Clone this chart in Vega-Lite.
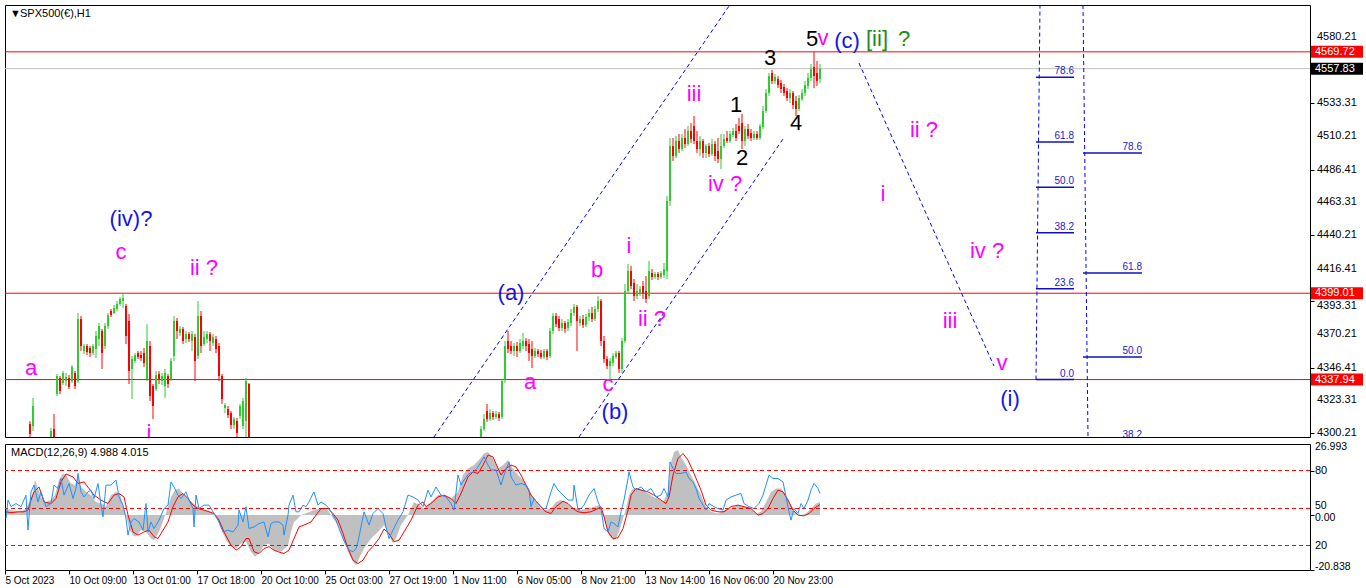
{
"$schema":"https://vega.github.io/schema/vega-lite/v6.json",
"padding":{"left":4,"top":4,"right":0,"bottom":0},
"background":"#ffffff",
"spacing":2,
"config":{"view":{"stroke":"#000000","strokeWidth":1},"axis":{"labelFont":"Liberation Sans","labelFontSize":11,"labelColor":"#000000","tickColor":"#000000","domainColor":"#000000","grid":false,"labelOverlap":false}},
"datasets":{
"hlines":[{"p":4569.72,"kind":"level"},{"p":4557.83,"kind":"bid"},{"p":4399.01,"kind":"level"},{"p":4337.94,"kind":"level"}],
"yt":[{"p":4300.21},{"p":4323.31},{"p":4346.41},{"p":4370.21},{"p":4393.31},{"p":4416.41},{"p":4440.21},{"p":4463.31},{"p":4486.41},{"p":4510.21},{"p":4533.31},{"p":4580.21}],
"mt":[{"v":26.993,"t":"26.993"},{"v":16.93,"t":"80"},{"v":2.5,"t":"50"},{"v":0,"t":"0.00"},{"v":-11.54,"t":"20"},{"v":-20.838,"t":"-20.838"}],
"candles":[
{"x":29,"o":4306.5,"h":4308.6,"l":4294.5,"c":4299.5},
{"x":32,"o":4305.1,"h":4324.9,"l":4301.6,"c":4319.3},
{"x":50,"o":4291.0,"h":4303.7,"l":4287.4,"c":4301.6},
{"x":53,"o":4303.0,"h":4313.6,"l":4291.0,"c":4296.6},
{"x":56,"o":4327.7,"h":4341.9,"l":4326.3,"c":4340.5},
{"x":59,"o":4339.1,"h":4340.5,"l":4327.7,"c":4329.9},
{"x":62,"o":4335.5,"h":4344.0,"l":4334.1,"c":4342.6},
{"x":65,"o":4336.9,"h":4342.6,"l":4333.4,"c":4339.8},
{"x":68,"o":4339.1,"h":4341.2,"l":4331.3,"c":4332.7},
{"x":71,"o":4336.9,"h":4348.3,"l":4335.5,"c":4346.8},
{"x":74,"o":4342.6,"h":4344.0,"l":4331.3,"c":4333.4},
{"x":77,"o":4336.9,"h":4385.0,"l":4335.5,"c":4380.8},
{"x":80,"o":4380.8,"h":4382.9,"l":4358.2,"c":4361.7},
{"x":83,"o":4358.2,"h":4363.1,"l":4356.0,"c":4361.7},
{"x":86,"o":4361.7,"h":4363.1,"l":4355.3,"c":4357.4},
{"x":89,"o":4360.3,"h":4361.7,"l":4353.9,"c":4356.7},
{"x":92,"o":4356.7,"h":4363.1,"l":4355.3,"c":4361.7},
{"x":95,"o":4359.6,"h":4372.3,"l":4353.2,"c":4368.8},
{"x":98,"o":4366.6,"h":4378.0,"l":4361.7,"c":4375.8},
{"x":101,"o":4372.3,"h":4373.7,"l":4345.4,"c":4356.7},
{"x":104,"o":4361.7,"h":4378.0,"l":4359.6,"c":4375.8},
{"x":107,"o":4375.8,"h":4385.0,"l":4373.7,"c":4383.6},
{"x":110,"o":4386.4,"h":4387.9,"l":4382.2,"c":4383.6},
{"x":113,"o":4385.0,"h":4390.7,"l":4384.3,"c":4388.6},
{"x":116,"o":4387.9,"h":4393.5,"l":4386.4,"c":4391.4},
{"x":119,"o":4391.4,"h":4396.3,"l":4390.0,"c":4394.9},
{"x":122,"o":4393.5,"h":4399.0,"l":4388.6,"c":4395.6},
{"x":125,"o":4390.0,"h":4391.4,"l":4363.1,"c":4368.8},
{"x":128,"o":4379.4,"h":4384.3,"l":4334.8,"c":4344.0},
{"x":131,"o":4345.4,"h":4354.6,"l":4324.2,"c":4352.5},
{"x":134,"o":4351.1,"h":4356.7,"l":4349.7,"c":4355.3},
{"x":137,"o":4356.7,"h":4358.2,"l":4352.5,"c":4353.9},
{"x":140,"o":4355.3,"h":4358.2,"l":4351.1,"c":4353.2},
{"x":143,"o":4356.7,"h":4360.3,"l":4346.8,"c":4349.7},
{"x":146,"o":4338.4,"h":4377.2,"l":4336.9,"c":4365.2},
{"x":149,"o":4361.7,"h":4365.2,"l":4322.8,"c":4326.3},
{"x":152,"o":4333.4,"h":4334.8,"l":4310.1,"c":4319.3},
{"x":155,"o":4331.3,"h":4344.0,"l":4329.9,"c":4341.2},
{"x":158,"o":4341.9,"h":4344.0,"l":4334.8,"c":4338.4},
{"x":161,"o":4336.9,"h":4342.6,"l":4334.1,"c":4340.5},
{"x":164,"o":4333.4,"h":4345.4,"l":4324.9,"c":4342.6},
{"x":167,"o":4340.5,"h":4341.9,"l":4332.0,"c":4334.8},
{"x":170,"o":4338.4,"h":4353.2,"l":4336.9,"c":4351.1},
{"x":173,"o":4354.6,"h":4382.9,"l":4351.1,"c":4379.4},
{"x":176,"o":4379.4,"h":4381.5,"l":4366.6,"c":4372.3},
{"x":179,"o":4370.9,"h":4375.8,"l":4368.8,"c":4373.7},
{"x":182,"o":4373.7,"h":4375.1,"l":4363.1,"c":4365.2},
{"x":185,"o":4366.6,"h":4372.3,"l":4363.8,"c":4370.2},
{"x":188,"o":4370.2,"h":4371.6,"l":4364.5,"c":4366.6},
{"x":191,"o":4365.2,"h":4372.3,"l":4358.2,"c":4370.2},
{"x":194,"o":4368.1,"h":4370.2,"l":4336.9,"c":4351.1},
{"x":197,"o":4354.6,"h":4393.5,"l":4352.5,"c":4382.9},
{"x":200,"o":4382.9,"h":4386.4,"l":4356.7,"c":4361.7},
{"x":203,"o":4363.1,"h":4372.3,"l":4361.7,"c":4368.1},
{"x":206,"o":4366.6,"h":4372.3,"l":4363.8,"c":4370.2},
{"x":209,"o":4370.2,"h":4371.6,"l":4358.2,"c":4365.2},
{"x":212,"o":4363.8,"h":4370.2,"l":4361.7,"c":4368.1},
{"x":215,"o":4366.6,"h":4368.8,"l":4356.7,"c":4359.6},
{"x":218,"o":4361.7,"h":4363.8,"l":4336.9,"c":4340.5},
{"x":221,"o":4340.5,"h":4341.9,"l":4320.7,"c":4324.2},
{"x":224,"o":4317.8,"h":4321.4,"l":4314.3,"c":4320.0},
{"x":227,"o":4317.1,"h":4319.3,"l":4310.8,"c":4312.9},
{"x":230,"o":4314.3,"h":4315.7,"l":4303.0,"c":4305.8},
{"x":233,"o":4305.8,"h":4311.5,"l":4303.0,"c":4310.1},
{"x":236,"o":4308.6,"h":4310.8,"l":4294.5,"c":4300.2},
{"x":239,"o":4312.2,"h":4320.7,"l":4310.1,"c":4319.3},
{"x":242,"o":4305.1,"h":4324.9,"l":4303.0,"c":4322.8},
{"x":245,"o":4308.6,"h":4339.1,"l":4296.6,"c":4336.9},
{"x":248,"o":4334.8,"h":4335.5,"l":4291.0,"c":4296.6},
{"x":480,"o":4296.6,"h":4305.1,"l":4294.5,"c":4303.0},
{"x":483,"o":4303.0,"h":4313.6,"l":4301.6,"c":4310.1},
{"x":486,"o":4315.7,"h":4320.7,"l":4307.9,"c":4310.1},
{"x":489,"o":4310.1,"h":4317.1,"l":4308.6,"c":4314.3},
{"x":492,"o":4314.3,"h":4315.7,"l":4309.4,"c":4311.5},
{"x":495,"o":4311.5,"h":4315.7,"l":4310.1,"c":4313.6},
{"x":498,"o":4313.6,"h":4315.0,"l":4308.6,"c":4310.8},
{"x":501,"o":4311.5,"h":4338.4,"l":4310.1,"c":4336.9},
{"x":504,"o":4338.4,"h":4365.2,"l":4335.5,"c":4361.7},
{"x":507,"o":4365.2,"h":4372.3,"l":4356.7,"c":4359.6},
{"x":510,"o":4361.7,"h":4365.2,"l":4356.0,"c":4358.2},
{"x":513,"o":4358.2,"h":4363.8,"l":4354.6,"c":4361.7},
{"x":516,"o":4361.7,"h":4364.5,"l":4353.9,"c":4358.2},
{"x":519,"o":4358.2,"h":4366.6,"l":4356.7,"c":4363.8},
{"x":522,"o":4361.7,"h":4370.9,"l":4359.6,"c":4365.2},
{"x":525,"o":4365.2,"h":4367.3,"l":4358.2,"c":4361.7},
{"x":528,"o":4363.1,"h":4366.6,"l":4351.1,"c":4356.7},
{"x":531,"o":4359.6,"h":4365.2,"l":4346.1,"c":4354.6},
{"x":534,"o":4354.6,"h":4360.3,"l":4353.2,"c":4358.2},
{"x":537,"o":4358.2,"h":4359.6,"l":4353.9,"c":4356.0},
{"x":540,"o":4356.7,"h":4358.9,"l":4352.5,"c":4353.9},
{"x":543,"o":4353.9,"h":4359.6,"l":4352.5,"c":4358.2},
{"x":546,"o":4358.2,"h":4359.6,"l":4351.8,"c":4353.9},
{"x":549,"o":4354.6,"h":4374.4,"l":4353.2,"c":4372.3},
{"x":552,"o":4372.3,"h":4385.0,"l":4370.2,"c":4382.9},
{"x":555,"o":4382.9,"h":4385.0,"l":4375.1,"c":4377.2},
{"x":558,"o":4380.8,"h":4382.9,"l":4372.3,"c":4374.4},
{"x":561,"o":4374.4,"h":4380.8,"l":4372.3,"c":4378.0},
{"x":564,"o":4378.0,"h":4379.4,"l":4370.9,"c":4373.7},
{"x":567,"o":4374.4,"h":4380.8,"l":4372.3,"c":4378.7},
{"x":570,"o":4378.0,"h":4387.9,"l":4375.8,"c":4385.0},
{"x":573,"o":4385.0,"h":4391.4,"l":4382.9,"c":4389.3},
{"x":576,"o":4389.3,"h":4390.7,"l":4358.2,"c":4379.4},
{"x":579,"o":4378.0,"h":4382.9,"l":4375.8,"c":4380.8},
{"x":582,"o":4380.8,"h":4383.6,"l":4374.4,"c":4376.5},
{"x":585,"o":4376.5,"h":4384.3,"l":4375.1,"c":4382.2},
{"x":588,"o":4382.2,"h":4387.9,"l":4379.4,"c":4385.0},
{"x":591,"o":4385.0,"h":4389.3,"l":4378.7,"c":4380.8},
{"x":594,"o":4380.8,"h":4390.0,"l":4379.4,"c":4387.9},
{"x":597,"o":4387.9,"h":4397.0,"l":4385.7,"c":4393.5},
{"x":600,"o":4393.5,"h":4394.9,"l":4361.7,"c":4365.2},
{"x":603,"o":4365.2,"h":4368.8,"l":4349.7,"c":4352.5},
{"x":606,"o":4352.5,"h":4354.6,"l":4345.4,"c":4347.5},
{"x":609,"o":4347.5,"h":4353.2,"l":4338.4,"c":4351.1},
{"x":612,"o":4349.7,"h":4356.7,"l":4347.5,"c":4354.6},
{"x":615,"o":4353.9,"h":4358.2,"l":4352.5,"c":4356.7},
{"x":618,"o":4356.7,"h":4358.2,"l":4342.6,"c":4345.4},
{"x":621,"o":4345.4,"h":4367.3,"l":4342.6,"c":4365.2},
{"x":624,"o":4365.2,"h":4405.5,"l":4363.8,"c":4400.6},
{"x":627,"o":4400.6,"h":4419.7,"l":4399.2,"c":4414.7},
{"x":630,"o":4414.7,"h":4418.3,"l":4402.0,"c":4404.1},
{"x":633,"o":4406.2,"h":4409.1,"l":4393.5,"c":4397.0},
{"x":636,"o":4397.0,"h":4405.5,"l":4394.9,"c":4400.6},
{"x":639,"o":4399.2,"h":4404.1,"l":4397.0,"c":4402.0},
{"x":642,"o":4404.1,"h":4407.7,"l":4394.9,"c":4399.2},
{"x":645,"o":4400.6,"h":4411.2,"l":4392.1,"c":4394.9},
{"x":648,"o":4397.0,"h":4421.8,"l":4394.9,"c":4414.7},
{"x":651,"o":4413.3,"h":4416.1,"l":4408.4,"c":4410.5},
{"x":654,"o":4410.5,"h":4414.0,"l":4409.1,"c":4412.6},
{"x":657,"o":4412.6,"h":4414.0,"l":4408.4,"c":4410.5},
{"x":660,"o":4410.5,"h":4414.7,"l":4409.1,"c":4413.3},
{"x":663,"o":4411.9,"h":4420.4,"l":4409.8,"c":4416.1},
{"x":666,"o":4414.7,"h":4467.8,"l":4409.1,"c":4464.2},
{"x":669,"o":4464.2,"h":4508.8,"l":4460.7,"c":4503.1},
{"x":672,"o":4503.1,"h":4508.8,"l":4492.5,"c":4496.1},
{"x":675,"o":4496.1,"h":4510.2,"l":4494.6,"c":4506.7},
{"x":678,"o":4506.7,"h":4511.6,"l":4498.2,"c":4501.0},
{"x":681,"o":4501.0,"h":4511.6,"l":4499.6,"c":4508.8},
{"x":684,"o":4508.8,"h":4515.1,"l":4501.7,"c":4504.5},
{"x":687,"o":4504.5,"h":4517.3,"l":4503.1,"c":4513.7},
{"x":690,"o":4513.7,"h":4519.4,"l":4505.3,"c":4508.1},
{"x":693,"o":4517.3,"h":4524.3,"l":4504.5,"c":4506.7},
{"x":696,"o":4506.7,"h":4513.7,"l":4498.2,"c":4501.0},
{"x":699,"o":4501.0,"h":4510.2,"l":4496.1,"c":4506.7},
{"x":702,"o":4506.7,"h":4508.1,"l":4494.6,"c":4498.2},
{"x":705,"o":4498.2,"h":4504.5,"l":4494.6,"c":4503.1},
{"x":708,"o":4503.1,"h":4505.3,"l":4495.4,"c":4497.5},
{"x":711,"o":4497.5,"h":4508.1,"l":4496.1,"c":4504.5},
{"x":714,"o":4504.5,"h":4506.7,"l":4492.5,"c":4496.1},
{"x":717,"o":4499.6,"h":4508.8,"l":4491.1,"c":4493.9},
{"x":720,"o":4493.9,"h":4511.6,"l":4486.9,"c":4503.1},
{"x":723,"o":4503.1,"h":4511.6,"l":4501.7,"c":4508.1},
{"x":726,"o":4508.8,"h":4513.7,"l":4505.3,"c":4506.7},
{"x":729,"o":4506.7,"h":4513.7,"l":4505.3,"c":4511.6},
{"x":732,"o":4510.9,"h":4515.9,"l":4509.5,"c":4513.7},
{"x":735,"o":4513.7,"h":4518.7,"l":4506.7,"c":4508.8},
{"x":738,"o":4517.3,"h":4522.9,"l":4511.6,"c":4513.7},
{"x":741,"o":4519.4,"h":4525.8,"l":4501.0,"c":4506.7},
{"x":744,"o":4506.7,"h":4517.3,"l":4503.1,"c":4515.1},
{"x":747,"o":4515.1,"h":4518.7,"l":4508.1,"c":4510.2},
{"x":750,"o":4512.3,"h":4515.1,"l":4506.7,"c":4508.8},
{"x":753,"o":4508.8,"h":4513.7,"l":4507.4,"c":4511.6},
{"x":756,"o":4511.6,"h":4513.7,"l":4507.4,"c":4508.8},
{"x":759,"o":4508.8,"h":4518.7,"l":4507.4,"c":4517.3},
{"x":762,"o":4516.6,"h":4531.4,"l":4515.1,"c":4527.9},
{"x":765,"o":4527.9,"h":4543.4,"l":4526.5,"c":4540.6},
{"x":768,"o":4540.6,"h":4554.8,"l":4538.5,"c":4552.6},
{"x":771,"o":4554.8,"h":4556.9,"l":4547.0,"c":4549.1},
{"x":774,"o":4549.1,"h":4554.0,"l":4547.0,"c":4551.9},
{"x":777,"o":4550.5,"h":4552.6,"l":4544.1,"c":4546.3},
{"x":780,"o":4547.7,"h":4549.8,"l":4540.6,"c":4543.4},
{"x":783,"o":4544.9,"h":4547.0,"l":4538.5,"c":4540.6},
{"x":786,"o":4542.0,"h":4544.1,"l":4535.0,"c":4537.1},
{"x":789,"o":4537.1,"h":4543.4,"l":4533.5,"c":4540.6},
{"x":792,"o":4540.6,"h":4542.0,"l":4529.3,"c":4532.1},
{"x":795,"o":4535.0,"h":4538.5,"l":4524.3,"c":4529.3},
{"x":798,"o":4529.3,"h":4539.2,"l":4527.9,"c":4537.1},
{"x":801,"o":4536.4,"h":4543.4,"l":4535.0,"c":4540.6},
{"x":804,"o":4540.6,"h":4549.1,"l":4538.5,"c":4546.3},
{"x":807,"o":4545.6,"h":4554.8,"l":4543.4,"c":4551.2},
{"x":810,"o":4551.2,"h":4561.1,"l":4549.1,"c":4557.6},
{"x":813,"o":4559.0,"h":4569.7,"l":4544.1,"c":4552.6},
{"x":816,"o":4554.8,"h":4563.2,"l":4545.6,"c":4549.1},
{"x":819,"o":4550.5,"h":4561.1,"l":4547.7,"c":4557.8}
],
"chan":[{"id":"up","x":433,"p":4297.3},{"id":"up","x":728,"p":4602.1},{"id":"lo","x":578,"p":4297.3},{"id":"lo","x":782,"p":4508.1},{"id":"proj","x":858,"p":4561.8},{"id":"proj","x":993,"p":4347.5}],
"fibv":[{"id":"f1","x":1039,"p":4602.8},{"id":"f1","x":1035,"p":4337.94},{"id":"f2","x":1082,"p":4602.8},{"id":"f2","x":1087,"p":4297.3}],
"fibl":[{"x":1035,"x2":1073,"p":4551.66,"t":"78.6"},{"x":1035,"x2":1073,"p":4505.98,"t":"61.8"},{"x":1035,"x2":1073,"p":4473.9,"t":"50.0"},{"x":1035,"x2":1073,"p":4441.8,"t":"38.2"},{"x":1035,"x2":1073,"p":4402.1,"t":"23.6"},{"x":1035,"x2":1073,"p":4337.94,"t":"0.0"},{"x":1082,"x2":1141,"p":4498.2,"t":"78.6"},{"x":1082,"x2":1141,"p":4413.3,"t":"61.8"},{"x":1082,"x2":1141,"p":4353.9,"t":"50.0"},{"x":1082,"x2":1141,"p":4294.5,"t":"38.2"}],
"lab":[
{"x":130,"p":4451.5,"t":"(iv)?","kind":"deg1"},
{"x":120,"p":4428.2,"t":"c","kind":"deg2"},
{"x":203,"p":4416.8,"t":"ii ?","kind":"deg2"},
{"x":30,"p":4346.1,"t":"a","kind":"deg2"},
{"x":148,"p":4300.2,"t":"i","kind":"deg2"},
{"x":510,"p":4399.2,"t":"(a)","kind":"deg1"},
{"x":596,"p":4415.4,"t":"b","kind":"deg2"},
{"x":529,"p":4336.2,"t":"a","kind":"deg2"},
{"x":607,"p":4334.8,"t":"c","kind":"deg2"},
{"x":614,"p":4315.0,"t":"(b)","kind":"deg1"},
{"x":628,"p":4432.4,"t":"i","kind":"deg2"},
{"x":651,"p":4380.8,"t":"ii ?","kind":"deg2"},
{"x":693,"p":4539.9,"t":"iii","kind":"deg2"},
{"x":724,"p":4476.3,"t":"iv ?","kind":"deg2"},
{"x":735,"p":4532.1,"t":"1","kind":"deg3"},
{"x":741,"p":4494.6,"t":"2","kind":"deg3"},
{"x":769,"p":4565.4,"t":"3","kind":"deg3"},
{"x":795,"p":4519.4,"t":"4","kind":"deg3"},
{"x":811,"p":4578.8,"t":"5","kind":"deg3"},
{"x":822,"p":4579.5,"t":"v","kind":"deg2"},
{"x":846,"p":4577.4,"t":"(c)","kind":"deg1"},
{"x":876,"p":4578.8,"t":"[ii]","kind":"deg0"},
{"x":903,"p":4578.8,"t":"?","kind":"deg0"},
{"x":923,"p":4514.4,"t":"ii ?","kind":"deg2"},
{"x":882,"p":4469.2,"t":"i","kind":"deg2"},
{"x":986,"p":4428.9,"t":"iv ?","kind":"deg2"},
{"x":949,"p":4379.4,"t":"iii","kind":"deg2"},
{"x":1001,"p":4349.7,"t":"v","kind":"deg2"},
{"x":1009,"p":4324.2,"t":"(i)","kind":"deg1"}
],
"ttl":[{"x":9,"p":4596.5,"t":"▼"},{"x":19,"p":4596.5,"t":"SPX500(€),H1"}],
"boxes":[{"p":4569.72,"kind":"level"},{"p":4557.83,"kind":"bid"},{"p":4399.01,"kind":"level"},{"p":4337.94,"kind":"level"}],
"hist":[{"x":5,"v":2.5},{"x":10,"v":1.9},{"x":17,"v":1.25},{"x":23,"v":1.9},{"x":27,"v":3.8},{"x":32,"v":8.8},{"x":34,"v":13.3},{"x":37,"v":10.1},{"x":40,"v":6.9},{"x":44,"v":5.0},{"x":50,"v":5.7},{"x":54,"v":7.6},{"x":58,"v":13.3},{"x":62,"v":15.8},{"x":65,"v":15.2},{"x":70,"v":12.0},{"x":74,"v":11.4},{"x":77,"v":15.2},{"x":80,"v":10.7},{"x":85,"v":8.8},{"x":90,"v":7.6},{"x":95,"v":5.0},{"x":100,"v":4.4},{"x":105,"v":3.2},{"x":110,"v":7.6},{"x":115,"v":8.8},{"x":119,"v":8.2},{"x":122,"v":3.8},{"x":125,"v":0},{"x":128,"v":-5.1},{"x":132,"v":-7.6},{"x":135,"v":-8.2},{"x":140,"v":-5.7},{"x":145,"v":-6.4},{"x":150,"v":-8.9},{"x":153,"v":-9.5},{"x":157,"v":-7.0},{"x":160,"v":-4.5},{"x":163,"v":-1.3},{"x":167,"v":3.2},{"x":170,"v":6.9},{"x":174,"v":9.5},{"x":178,"v":10.1},{"x":182,"v":8.2},{"x":187,"v":6.3},{"x":192,"v":4.4},{"x":197,"v":3.2},{"x":203,"v":1.9},{"x":210,"v":1.25},{"x":215,"v":-0.3},{"x":220,"v":-5.1},{"x":225,"v":-9.5},{"x":230,"v":-12.0},{"x":235,"v":-12.7},{"x":240,"v":-10.8},{"x":245,"v":-10.1},{"x":250,"v":-13.9},{"x":254,"v":-15.8},{"x":258,"v":-14.6},{"x":263,"v":-11.4},{"x":268,"v":-10.8},{"x":273,"v":-13.3},{"x":280,"v":-13.9},{"x":287,"v":-11.4},{"x":290,"v":-6.4},{"x":293,"v":-2.6},{"x":297,"v":-1.3},{"x":300,"v":0},{"x":307,"v":1.0},{"x":313,"v":1.9},{"x":320,"v":2.5},{"x":325,"v":2.5},{"x":328,"v":1.25},{"x":332,"v":-1.3},{"x":337,"v":-3.8},{"x":342,"v":-8.9},{"x":347,"v":-13.9},{"x":352,"v":-17.7},{"x":355,"v":-19.0},{"x":358,"v":-16.5},{"x":363,"v":-12.7},{"x":370,"v":-8.9},{"x":377,"v":-6.4},{"x":383,"v":-3.8},{"x":388,"v":-7.6},{"x":392,"v":-10.8},{"x":395,"v":-8.9},{"x":400,"v":-3.8},{"x":407,"v":0},{"x":410,"v":2.5},{"x":413,"v":5.0},{"x":418,"v":3.8},{"x":423,"v":2.5},{"x":430,"v":5.0},{"x":437,"v":7.6},{"x":443,"v":7.6},{"x":450,"v":6.3},{"x":457,"v":8.8},{"x":462,"v":15.2},{"x":467,"v":17.7},{"x":473,"v":19.0},{"x":478,"v":20.9},{"x":483,"v":23.4},{"x":487,"v":24.0},{"x":492,"v":21.5},{"x":497,"v":17.7},{"x":502,"v":19.0},{"x":507,"v":20.9},{"x":512,"v":17.7},{"x":517,"v":15.2},{"x":522,"v":13.3},{"x":527,"v":10.7},{"x":530,"v":8.2},{"x":535,"v":5.0},{"x":540,"v":2.5},{"x":545,"v":1.9},{"x":550,"v":2.5},{"x":555,"v":5.0},{"x":560,"v":5.7},{"x":565,"v":5.0},{"x":570,"v":3.2},{"x":575,"v":2.5},{"x":580,"v":1.9},{"x":587,"v":2.5},{"x":593,"v":3.2},{"x":598,"v":3.8},{"x":602,"v":0.6},{"x":605,"v":-3.8},{"x":608,"v":-7.6},{"x":612,"v":-9.5},{"x":615,"v":-8.9},{"x":618,"v":-6.4},{"x":622,"v":-1.3},{"x":625,"v":2.5},{"x":628,"v":7.6},{"x":632,"v":10.1},{"x":637,"v":10.1},{"x":642,"v":9.5},{"x":647,"v":8.2},{"x":652,"v":6.9},{"x":657,"v":6.3},{"x":662,"v":5.0},{"x":667,"v":8.8},{"x":670,"v":20.2},{"x":673,"v":24.0},{"x":677,"v":24.7},{"x":680,"v":22.1},{"x":685,"v":19.0},{"x":690,"v":15.2},{"x":695,"v":11.4},{"x":700,"v":7.6},{"x":705,"v":3.2},{"x":710,"v":1.25},{"x":717,"v":0.6},{"x":723,"v":1.9},{"x":730,"v":2.5},{"x":737,"v":3.8},{"x":743,"v":3.2},{"x":750,"v":2.5},{"x":755,"v":0.6},{"x":760,"v":1.25},{"x":765,"v":5.0},{"x":770,"v":8.8},{"x":775,"v":10.1},{"x":780,"v":10.1},{"x":785,"v":7.6},{"x":790,"v":3.8},{"x":795,"v":0.6},{"x":800,"v":0},{"x":805,"v":0.6},{"x":810,"v":2.5},{"x":815,"v":4.4},{"x":819,"v":4.99}],
"sig":[{"x":5,"v":1.25},{"x":10,"v":0.9},{"x":17,"v":1.25},{"x":23,"v":1.25},{"x":27,"v":1.9},{"x":30,"v":5.7},{"x":33,"v":8.8},{"x":38,"v":10.7},{"x":43,"v":5.0},{"x":50,"v":4.4},{"x":55,"v":6.3},{"x":60,"v":12.6},{"x":65,"v":15.6},{"x":72,"v":14.5},{"x":77,"v":12.0},{"x":83,"v":12.6},{"x":88,"v":10.1},{"x":93,"v":7.6},{"x":100,"v":5.7},{"x":107,"v":4.4},{"x":113,"v":7.6},{"x":118,"v":8.2},{"x":123,"v":6.9},{"x":127,"v":0},{"x":132,"v":-6.4},{"x":137,"v":-7.6},{"x":143,"v":-6.4},{"x":148,"v":-5.7},{"x":153,"v":-8.2},{"x":157,"v":-8.9},{"x":160,"v":-7.0},{"x":167,"v":-2.6},{"x":172,"v":3.2},{"x":177,"v":6.9},{"x":182,"v":8.2},{"x":187,"v":6.3},{"x":192,"v":3.8},{"x":197,"v":2.5},{"x":203,"v":1.9},{"x":208,"v":1.25},{"x":213,"v":0.6},{"x":218,"v":-1.9},{"x":223,"v":-6.4},{"x":230,"v":-11.4},{"x":235,"v":-13.3},{"x":240,"v":-12.0},{"x":245,"v":-8.9},{"x":248,"v":-8.9},{"x":253,"v":-13.9},{"x":258,"v":-14.6},{"x":263,"v":-12.7},{"x":268,"v":-12.0},{"x":273,"v":-13.3},{"x":277,"v":-13.9},{"x":283,"v":-14.6},{"x":288,"v":-13.3},{"x":293,"v":-8.9},{"x":298,"v":-4.5},{"x":303,"v":-3.8},{"x":310,"v":-2.6},{"x":315,"v":0},{"x":320,"v":2.5},{"x":327,"v":2.5},{"x":332,"v":0.6},{"x":337,"v":-1.9},{"x":342,"v":-7.0},{"x":347,"v":-12.7},{"x":352,"v":-17.1},{"x":357,"v":-18.4},{"x":362,"v":-17.1},{"x":367,"v":-13.9},{"x":373,"v":-11.4},{"x":378,"v":-8.9},{"x":383,"v":-5.3},{"x":388,"v":-7.0},{"x":393,"v":-10.1},{"x":398,"v":-9.5},{"x":403,"v":-6.4},{"x":410,"v":-1.9},{"x":417,"v":3.8},{"x":422,"v":5.0},{"x":425,"v":3.2},{"x":430,"v":4.4},{"x":437,"v":6.9},{"x":443,"v":7.6},{"x":450,"v":6.3},{"x":455,"v":4.4},{"x":460,"v":8.2},{"x":467,"v":14.5},{"x":472,"v":16.4},{"x":477,"v":15.8},{"x":482,"v":19.0},{"x":487,"v":22.8},{"x":492,"v":22.1},{"x":497,"v":17.7},{"x":500,"v":15.2},{"x":505,"v":17.7},{"x":510,"v":19.0},{"x":515,"v":18.3},{"x":520,"v":15.2},{"x":525,"v":11.4},{"x":530,"v":7.6},{"x":537,"v":4.4},{"x":543,"v":1.9},{"x":545,"v":1.25},{"x":550,"v":0.6},{"x":555,"v":3.2},{"x":562,"v":5.3},{"x":567,"v":4.4},{"x":572,"v":2.5},{"x":577,"v":1.25},{"x":583,"v":0.9},{"x":590,"v":1.25},{"x":597,"v":2.5},{"x":600,"v":3.2},{"x":603,"v":-0.65},{"x":607,"v":-6.4},{"x":612,"v":-8.9},{"x":617,"v":-8.6},{"x":622,"v":-5.1},{"x":627,"v":1.9},{"x":630,"v":7.6},{"x":635,"v":10.1},{"x":640,"v":9.5},{"x":647,"v":8.8},{"x":653,"v":7.6},{"x":660,"v":5.7},{"x":665,"v":4.4},{"x":668,"v":6.9},{"x":672,"v":15.2},{"x":677,"v":21.5},{"x":682,"v":23.4},{"x":687,"v":20.9},{"x":693,"v":15.8},{"x":700,"v":9.5},{"x":705,"v":3.8},{"x":710,"v":1.9},{"x":717,"v":1.25},{"x":723,"v":1.25},{"x":730,"v":3.2},{"x":737,"v":3.8},{"x":743,"v":3.2},{"x":750,"v":2.5},{"x":757,"v":0},{"x":762,"v":0.6},{"x":767,"v":2.5},{"x":772,"v":6.3},{"x":777,"v":9.5},{"x":782,"v":8.8},{"x":787,"v":5.7},{"x":792,"v":1.9},{"x":797,"v":0},{"x":803,"v":-0.3},{"x":808,"v":0.6},{"x":813,"v":2.5},{"x":819,"v":4.015}],
"blu":[{"x":5,"v":-1.3},{"x":7,"v":5.7},{"x":10,"v":3.2},{"x":15,"v":4.4},{"x":20,"v":3.2},{"x":25,"v":7.6},{"x":27,"v":-5.7},{"x":30,"v":8.8},{"x":33,"v":11.4},{"x":37,"v":5.0},{"x":40,"v":8.8},{"x":45,"v":3.2},{"x":50,"v":4.4},{"x":53,"v":11.4},{"x":57,"v":10.1},{"x":60,"v":13.9},{"x":63,"v":7.6},{"x":68,"v":12.0},{"x":72,"v":6.3},{"x":75,"v":10.1},{"x":77,"v":15.8},{"x":80,"v":8.8},{"x":83,"v":6.9},{"x":87,"v":8.8},{"x":90,"v":9.5},{"x":93,"v":6.3},{"x":97,"v":12.0},{"x":100,"v":3.8},{"x":102,"v":-0.65},{"x":105,"v":11.4},{"x":110,"v":11.4},{"x":115,"v":13.3},{"x":118,"v":6.9},{"x":122,"v":3.8},{"x":125,"v":-1.3},{"x":127,"v":-7.6},{"x":130,"v":-2.6},{"x":133,"v":-1.3},{"x":138,"v":-2.6},{"x":142,"v":-5.7},{"x":145,"v":4.4},{"x":147,"v":-6.4},{"x":150,"v":-2.6},{"x":153,"v":-5.1},{"x":158,"v":-1.9},{"x":163,"v":2.5},{"x":167,"v":3.8},{"x":170,"v":12.6},{"x":173,"v":10.7},{"x":177,"v":7.6},{"x":180,"v":6.3},{"x":185,"v":8.8},{"x":188,"v":5.7},{"x":192,"v":2.5},{"x":193,"v":-4.5},{"x":195,"v":7.6},{"x":198,"v":2.5},{"x":203,"v":3.8},{"x":208,"v":3.8},{"x":213,"v":0.6},{"x":218,"v":-2.6},{"x":222,"v":-6.4},{"x":227,"v":-5.7},{"x":232,"v":-6.4},{"x":237,"v":-3.8},{"x":238,"v":1.9},{"x":242,"v":-2.6},{"x":245,"v":3.2},{"x":248,"v":-5.1},{"x":253,"v":-4.5},{"x":258,"v":-3.2},{"x":263,"v":-2.6},{"x":267,"v":-8.2},{"x":270,"v":-3.2},{"x":273,"v":-2.6},{"x":278,"v":-2.6},{"x":282,"v":-3.8},{"x":283,"v":-7.6},{"x":287,"v":0},{"x":288,"v":3.8},{"x":292,"v":7.6},{"x":295,"v":1.25},{"x":298,"v":1.25},{"x":302,"v":3.8},{"x":305,"v":3.2},{"x":308,"v":5.0},{"x":312,"v":8.2},{"x":313,"v":8.8},{"x":317,"v":3.8},{"x":320,"v":5.0},{"x":325,"v":3.8},{"x":328,"v":2.5},{"x":332,"v":0},{"x":335,"v":-1.9},{"x":338,"v":-5.1},{"x":342,"v":-8.9},{"x":345,"v":-11.4},{"x":348,"v":-13.3},{"x":352,"v":-13.9},{"x":355,"v":-12.7},{"x":357,"v":-10.1},{"x":360,"v":-4.5},{"x":363,"v":1.25},{"x":368,"v":-3.8},{"x":372,"v":0.6},{"x":377,"v":2.5},{"x":382,"v":0.6},{"x":385,"v":-4.5},{"x":388,"v":-8.9},{"x":392,"v":-5.7},{"x":397,"v":-1.9},{"x":402,"v":1.25},{"x":407,"v":7.6},{"x":412,"v":6.9},{"x":417,"v":5.7},{"x":422,"v":3.2},{"x":427,"v":9.5},{"x":430,"v":6.9},{"x":435,"v":10.7},{"x":440,"v":7.6},{"x":445,"v":6.9},{"x":450,"v":4.4},{"x":453,"v":1.9},{"x":457,"v":15.2},{"x":460,"v":11.4},{"x":463,"v":13.3},{"x":468,"v":15.8},{"x":473,"v":16.4},{"x":477,"v":18.3},{"x":480,"v":20.2},{"x":483,"v":22.1},{"x":487,"v":19.0},{"x":490,"v":17.1},{"x":495,"v":17.1},{"x":500,"v":11.4},{"x":503,"v":15.2},{"x":508,"v":20.2},{"x":510,"v":14.5},{"x":515,"v":11.4},{"x":520,"v":12.0},{"x":525,"v":11.4},{"x":528,"v":9.5},{"x":530,"v":3.2},{"x":533,"v":6.3},{"x":537,"v":4.4},{"x":542,"v":2.5},{"x":545,"v":2.5},{"x":550,"v":8.8},{"x":553,"v":12.0},{"x":557,"v":9.5},{"x":562,"v":7.6},{"x":567,"v":5.7},{"x":572,"v":5.7},{"x":573,"v":11.4},{"x":577,"v":1.9},{"x":580,"v":2.5},{"x":583,"v":3.8},{"x":588,"v":7.6},{"x":593,"v":10.1},{"x":597,"v":5.0},{"x":600,"v":2.5},{"x":603,"v":-5.1},{"x":607,"v":-6.4},{"x":610,"v":-2.6},{"x":613,"v":-3.2},{"x":617,"v":-4.5},{"x":620,"v":1.25},{"x":623,"v":5.7},{"x":627,"v":13.9},{"x":628,"v":16.4},{"x":632,"v":10.7},{"x":635,"v":9.5},{"x":640,"v":10.7},{"x":645,"v":8.8},{"x":650,"v":10.1},{"x":655,"v":6.9},{"x":660,"v":7.6},{"x":663,"v":10.1},{"x":667,"v":6.9},{"x":669,"v":20.2},{"x":672,"v":17.7},{"x":675,"v":15.8},{"x":680,"v":15.8},{"x":685,"v":16.4},{"x":688,"v":13.9},{"x":692,"v":12.6},{"x":695,"v":10.1},{"x":698,"v":6.3},{"x":702,"v":3.8},{"x":705,"v":1.9},{"x":708,"v":4.4},{"x":713,"v":3.2},{"x":717,"v":2.5},{"x":722,"v":1.9},{"x":725,"v":5.7},{"x":730,"v":6.9},{"x":735,"v":7.6},{"x":740,"v":8.2},{"x":743,"v":4.4},{"x":748,"v":3.2},{"x":753,"v":2.5},{"x":758,"v":4.4},{"x":762,"v":7.6},{"x":765,"v":11.4},{"x":768,"v":15.2},{"x":772,"v":13.9},{"x":777,"v":13.9},{"x":782,"v":12.6},{"x":785,"v":6.9},{"x":788,"v":1.25},{"x":790,"v":-1.9},{"x":793,"v":2.5},{"x":797,"v":0.6},{"x":800,"v":4.4},{"x":803,"v":2.5},{"x":807,"v":5.7},{"x":810,"v":9.5},{"x":813,"v":12.0},{"x":817,"v":10.1},{"x":819,"v":8.2}],
"mlev":[{"v":16.93},{"v":2.5},{"v":-11.54}],
"mttl":[{"x":10,"v":23.5,"t":"MACD(12,26,9) 4.988 4.015"}]
},
"vconcat":[
{
"width":1305,"height":432,
"resolve":{"scale":{"color":"independent","size":"independent"}},
"layer":[
{"data":{"name":"hlines"},"mark":{"type":"rule","strokeWidth":1},
 "encoding":{"y":{"field":"p","type":"quantitative","scale":{"domain":[4297.33,4602.84],"nice":false,"zero":false},
   "axis":{"orient":"right","title":null,"values":[4300.21,4323.31,4346.41,4370.21,4393.31,4416.41,4440.21,4463.31,4486.41,4510.21,4533.31,4580.21],"labels":false,"tickSize":4,"domain":false}},
  "color":{"field":"kind","type":"nominal","scale":{"domain":["level","bid"],"range":["#ff0000","#c0c0c0"]},"legend":null}}},
{"data":{"name":"candles"},"mark":{"type":"rule","strokeWidth":1,"clip":true},
 "encoding":{"x":{"field":"x","type":"quantitative","scale":{"domain":[4,1309],"nice":false,"zero":false},"axis":null},
  "y":{"field":"l","type":"quantitative","scale":{"domain":[4297.33,4602.84],"nice":false,"zero":false},"axis":{"title":null}},"y2":{"field":"h"},
  "color":{"condition":{"test":"datum.c >= datum.o","value":"#2ecc2e"},"value":"#ff0000"}}},
{"data":{"name":"candles"},"mark":{"type":"rule","strokeWidth":2,"clip":true},
 "encoding":{"x":{"field":"x","type":"quantitative","scale":{"domain":[4,1309],"nice":false,"zero":false},"axis":null},
  "y":{"field":"o","type":"quantitative","scale":{"domain":[4297.33,4602.84],"nice":false,"zero":false},"axis":{"title":null}},"y2":{"field":"c"},
  "color":{"condition":{"test":"datum.c >= datum.o","value":"#2ecc2e"},"value":"#ff0000"}}},
{"data":{"name":"chan"},"mark":{"type":"line","color":"#0000ff","strokeWidth":1,"strokeDash":[4,3],"clip":true},
 "encoding":{"x":{"field":"x","type":"quantitative","scale":{"domain":[4,1309],"nice":false,"zero":false},"axis":null},
  "y":{"field":"p","type":"quantitative","scale":{"domain":[4297.33,4602.84],"nice":false,"zero":false},"axis":{"title":null}},"detail":{"field":"id"}}},
{"data":{"name":"fibv"},"mark":{"type":"line","color":"#0000ff","strokeWidth":1,"strokeDash":[4,3],"clip":true},
 "encoding":{"x":{"field":"x","type":"quantitative","scale":{"domain":[4,1309],"nice":false,"zero":false},"axis":null},
  "y":{"field":"p","type":"quantitative","scale":{"domain":[4297.33,4602.84],"nice":false,"zero":false},"axis":{"title":null}},"detail":{"field":"id"}}},
{"data":{"name":"fibl"},"mark":{"type":"rule","color":"#1010c0","strokeWidth":1.5,"clip":true},
 "encoding":{"x":{"field":"x","type":"quantitative","scale":{"domain":[4,1309],"nice":false,"zero":false},"axis":null},"x2":{"field":"x2"},
  "y":{"field":"p","type":"quantitative","scale":{"domain":[4297.33,4602.84],"nice":false,"zero":false},"axis":{"title":null}}}},
{"data":{"name":"fibl"},"mark":{"type":"text","color":"#2020c8","font":"Liberation Sans","fontSize":10,"align":"right","baseline":"bottom","dy":-1,"clip":true},
 "encoding":{"x":{"field":"x2","type":"quantitative","scale":{"domain":[4,1309],"nice":false,"zero":false},"axis":null},
  "y":{"field":"p","type":"quantitative","scale":{"domain":[4297.33,4602.84],"nice":false,"zero":false},"axis":{"title":null}},"text":{"field":"t"}}},
{"data":{"name":"lab"},"mark":{"type":"text","font":"Liberation Sans","align":"center","baseline":"middle","clip":true},
 "encoding":{"x":{"field":"x","type":"quantitative","scale":{"domain":[4,1309],"nice":false,"zero":false},"axis":null},
  "y":{"field":"p","type":"quantitative","scale":{"domain":[4297.33,4602.84],"nice":false,"zero":false},"axis":{"title":null}},"text":{"field":"t"},
  "color":{"field":"kind","type":"nominal","scale":{"domain":["deg0","deg1","deg2","deg3"],"range":["#228b22","#1414e6","#ff00ff","#000000"]},"legend":null},
  "size":{"field":"kind","type":"ordinal","scale":{"domain":["deg0","deg1","deg2","deg3"],"range":[22,22,18,18]},"legend":null}}},
{"data":{"name":"ttl"},"mark":{"type":"text","font":"Liberation Sans","fontSize":11,"align":"left","baseline":"middle","color":"#000000"},
 "encoding":{"x":{"field":"x","type":"quantitative","scale":{"domain":[4,1309],"nice":false,"zero":false},"axis":null},
  "y":{"field":"p","type":"quantitative","scale":{"domain":[4297.33,4602.84],"nice":false,"zero":false},"axis":{"title":null}},"text":{"field":"t"}}},
{"data":{"name":"yt"},"transform":[{"filter":"datum.p != 4393.31"}],"mark":{"type":"text","font":"Liberation Sans","fontSize":11,"align":"left","baseline":"middle","color":"#000000","clip":false},
 "encoding":{"x":{"datum":1316,"type":"quantitative","scale":{"domain":[4,1309],"nice":false,"zero":false},"axis":null},
  "y":{"field":"p","type":"quantitative","scale":{"domain":[4297.33,4602.84],"nice":false,"zero":false},"axis":{"title":null}},
  "text":{"field":"p","type":"quantitative","format":".2f"}}},
{"data":{"name":"yt"},"transform":[{"filter":"datum.p == 4393.31"}],"mark":{"type":"text","font":"Liberation Sans","fontSize":11,"align":"left","baseline":"top","dy":-1,"color":"#000000","clip":false},
 "encoding":{"x":{"datum":1316,"type":"quantitative","scale":{"domain":[4,1309],"nice":false,"zero":false},"axis":null},
  "y":{"field":"p","type":"quantitative","scale":{"domain":[4297.33,4602.84],"nice":false,"zero":false},"axis":{"title":null}},
  "text":{"field":"p","type":"quantitative","format":".2f"}}},
{"data":{"name":"boxes"},"mark":{"type":"rule","strokeWidth":12,"strokeCap":"butt","clip":false},
 "encoding":{"x":{"datum":1310,"type":"quantitative","scale":{"domain":[4,1309],"nice":false,"zero":false},"axis":null},"x2":{"datum":1362},
  "y":{"field":"p","type":"quantitative","scale":{"domain":[4297.33,4602.84],"nice":false,"zero":false},"axis":{"title":null}},
  "color":{"field":"kind","type":"nominal","scale":{"domain":["level","bid"],"range":["#ff0000","#000000"]},"legend":null}}},
{"data":{"name":"boxes"},"mark":{"type":"text","font":"Liberation Sans","fontSize":11,"align":"left","baseline":"middle","color":"#ffffff","clip":false},
 "encoding":{"x":{"datum":1314,"type":"quantitative","scale":{"domain":[4,1309],"nice":false,"zero":false},"axis":null},
  "y":{"field":"p","type":"quantitative","scale":{"domain":[4297.33,4602.84],"nice":false,"zero":false},"axis":{"title":null}},
  "text":{"field":"p","type":"quantitative","format":".2f"}}}
]
},
{
"width":1305,"height":126,
"layer":[
{"data":{"name":"hist"},"mark":{"type":"area","color":"#c0c0c0","clip":true},
 "encoding":{"x":{"field":"x","type":"quantitative","scale":{"domain":[4,1309],"nice":false,"zero":false},
   "axis":{"orient":"bottom","title":null,"values":[4,68,132,196,260,324,388,452,516,580,644,708,772],
    "labelExpr":"['5 Oct 2023','10 Oct 09:00','13 Oct 01:00','17 Oct 18:00','20 Oct 10:00','25 Oct 03:00','27 Oct 19:00','1 Nov 11:00','6 Nov 05:00','8 Nov 21:00','13 Nov 14:00','16 Nov 06:00','20 Nov 23:00'][indexof([4,68,132,196,260,324,388,452,516,580,644,708,772], datum.value)]",
    "labelAlign":"left","labelFlush":false,"labelOverlap":false,"labelFontSize":10,"tickSize":4,"labelPadding":1,"domain":false}},
  "y":{"field":"v","type":"quantitative","scale":{"domain":[-20.838,26.993],"nice":false,"zero":false},
   "axis":{"orient":"right","title":null,"values":[26.993,16.93,2.5,0,-11.54,-20.838],"labels":false,"tickSize":4,"domain":false}},
  "y2":{"datum":0}}},
{"data":{"name":"mlev"},"mark":{"type":"rule","color":"#ff0000","strokeWidth":1,"strokeDash":[4,3]},
 "encoding":{"y":{"field":"v","type":"quantitative","scale":{"domain":[-20.838,26.993],"nice":false,"zero":false},"axis":{"title":null}}}},
{"data":{"name":"sig"},"mark":{"type":"line","color":"#ff0000","strokeWidth":1,"clip":true},
 "encoding":{"x":{"field":"x","type":"quantitative","scale":{"domain":[4,1309],"nice":false,"zero":false},"axis":{"title":null}},
  "y":{"field":"v","type":"quantitative","scale":{"domain":[-20.838,26.993],"nice":false,"zero":false},"axis":{"title":null}}}},
{"data":{"name":"blu"},"mark":{"type":"line","color":"#1e90ff","strokeWidth":1,"clip":true},
 "encoding":{"x":{"field":"x","type":"quantitative","scale":{"domain":[4,1309],"nice":false,"zero":false},"axis":{"title":null}},
  "y":{"field":"v","type":"quantitative","scale":{"domain":[-20.838,26.993],"nice":false,"zero":false},"axis":{"title":null}}}},
{"data":{"name":"mttl"},"mark":{"type":"text","font":"Liberation Sans","fontSize":11,"align":"left","baseline":"middle","color":"#000000"},
 "encoding":{"x":{"field":"x","type":"quantitative","scale":{"domain":[4,1309],"nice":false,"zero":false},"axis":{"title":null}},
  "y":{"field":"v","type":"quantitative","scale":{"domain":[-20.838,26.993],"nice":false,"zero":false},"axis":{"title":null}},"text":{"field":"t"}}},
{"data":{"name":"mt"},"transform":[{"filter":"datum.t == '80' || datum.t == '20'"}],"mark":{"type":"text","font":"Liberation Sans","fontSize":11,"align":"left","baseline":"middle","color":"#000000","clip":false},
 "encoding":{"x":{"datum":1314,"type":"quantitative","scale":{"domain":[4,1309],"nice":false,"zero":false},"axis":{"title":null}},
  "y":{"field":"v","type":"quantitative","scale":{"domain":[-20.838,26.993],"nice":false,"zero":false},"axis":{"title":null}},"text":{"field":"t"}}},
{"data":{"name":"mt"},"transform":[{"filter":"datum.t == '26.993' || datum.t == '0.00'"}],"mark":{"type":"text","font":"Liberation Sans","fontSize":10.5,"align":"left","baseline":"top","dy":-2,"color":"#000000","clip":false},
 "encoding":{"x":{"datum":1314,"type":"quantitative","scale":{"domain":[4,1309],"nice":false,"zero":false},"axis":{"title":null}},
  "y":{"field":"v","type":"quantitative","scale":{"domain":[-20.838,26.993],"nice":false,"zero":false},"axis":{"title":null}},"text":{"field":"t"}}},
{"data":{"name":"mt"},"transform":[{"filter":"datum.t == '50' || datum.t == '-20.838'"}],"mark":{"type":"text","font":"Liberation Sans","fontSize":10.5,"align":"left","baseline":"bottom","dy":2,"color":"#000000","clip":false},
 "encoding":{"x":{"datum":1314,"type":"quantitative","scale":{"domain":[4,1309],"nice":false,"zero":false},"axis":{"title":null}},
  "y":{"field":"v","type":"quantitative","scale":{"domain":[-20.838,26.993],"nice":false,"zero":false},"axis":{"title":null}},"text":{"field":"t"}}}
]
}
]
}
